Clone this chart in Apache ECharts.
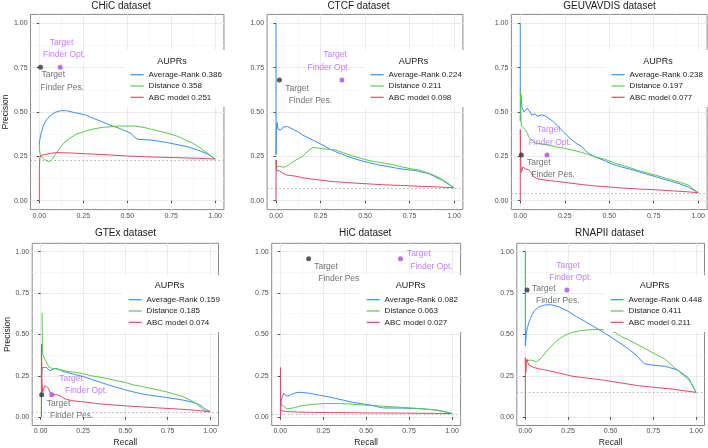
<!DOCTYPE html>
<html><head><meta charset="utf-8">
<script src="https://cdn.jsdelivr.net/npm/echarts@6/dist/echarts.min.js"></script>
<style>html,body{margin:0;padding:0;background:#fff}#c{width:708px;height:448px}</style>
</head><body><div id="c"></div>
<script>
// ---------- DATA ----------
const panelTitles = ['CHiC dataset', 'CTCF dataset', 'GEUVAVDIS dataset', 'GTEx dataset', 'HiC dataset', 'RNAPII dataset'];
const methodNames = ['Average-Rank', 'Distance', 'ABC model'];
const tickValues = [0, 0.25, 0.5, 0.75, 1];
const minorValues = [0.125, 0.375, 0.625, 0.875];

const chicAupr = [0.386, 0.358, 0.251];
const ctcfAupr = [0.224, 0.211, 0.098];
const geuAupr = [0.238, 0.197, 0.077];
const gtexAupr = [0.159, 0.185, 0.074];
const hicAupr = [0.082, 0.063, 0.027];
const rnapiiAupr = [0.448, 0.411, 0.211];

const baselines = [0.235, 0.073, 0.045, 0.034, 0.022, 0.149];

// Target Finder points [recall, precision]
const pesRecall = [0.007, 0.019, 0.006, 0.006, 0.165, 0.01];
const pesPrecision = [0.752, 0.68, 0.258, 0.135, 0.956, 0.768];
const optRecall = [0.119, 0.37, 0.15, 0.065, 0.70, 0.244];
const optPrecision = [0.752, 0.68, 0.258, 0.135, 0.956, 0.768];
const pesLabels = ['Target\nFinder Pes.', 'Target\nFinder Pes.', 'Target\nFinder Pes.', 'Target\nFinder Pes.', 'Target\nFinder Pes', 'Target\nFinder Pes.'];
const optLabels = ['Target\nFinder Opt.', 'Target\nFinder Opt.', 'Target\nFinder Opt.', 'Target\nFinder Opt.', 'Target\nFinder Opt.', 'Target\nFinder Opt.'];

// PR curves: [recall, precision]
const chicAvgRank = [[0,0.32],[0.004,0.35],[0.01,0.38],[0.022,0.42],[0.04,0.455],[0.06,0.478],[0.09,0.498],[0.12,0.507],[0.15,0.508],[0.2,0.497],[0.264,0.483],[0.31,0.463],[0.357,0.445],[0.4,0.427],[0.45,0.41],[0.49,0.393],[0.516,0.383],[0.535,0.365],[0.55,0.352],[0.562,0.346],[0.637,0.342],[0.73,0.327],[0.84,0.305],[0.916,0.28],[0.96,0.262],[1,0.235]];
const chicDistance = [[0,0.32],[0.002,0.28],[0.006,0.26],[0.015,0.245],[0.03,0.232],[0.045,0.223],[0.06,0.222],[0.075,0.235],[0.09,0.26],[0.115,0.295],[0.14,0.325],[0.17,0.35],[0.21,0.375],[0.264,0.393],[0.31,0.405],[0.357,0.413],[0.45,0.421],[0.544,0.421],[0.6,0.412],[0.637,0.402],[0.69,0.39],[0.73,0.38],[0.78,0.365],[0.823,0.346],[0.87,0.325],[0.916,0.297],[0.96,0.265],[1,0.235]];
const chicAbc = [[0,0],[0,0.18],[0.003,0.24],[0.008,0.255],[0.02,0.258],[0.04,0.262],[0.07,0.268],[0.1,0.271],[0.15,0.27],[0.2,0.268],[0.3,0.263],[0.4,0.258],[0.5,0.252],[0.6,0.248],[0.7,0.245],[0.8,0.242],[0.9,0.239],[1,0.235]];

const ctcfAvgRank = [[0,1.0],[0,0.26],[0.002,0.40],[0.006,0.44],[0.012,0.40],[0.02,0.39],[0.03,0.40],[0.04,0.415],[0.05,0.42],[0.065,0.418],[0.08,0.41],[0.1,0.40],[0.12,0.39],[0.15,0.37],[0.18,0.355],[0.21,0.34],[0.26,0.315],[0.3,0.292],[0.336,0.276],[0.39,0.255],[0.43,0.24],[0.48,0.225],[0.52,0.215],[0.57,0.203],[0.617,0.195],[0.67,0.185],[0.71,0.178],[0.785,0.17],[0.86,0.152],[0.935,0.115],[1,0.073]];
const ctcfDistance = [[0,0.23],[0.003,0.19],[0.01,0.2],[0.02,0.195],[0.035,0.19],[0.05,0.19],[0.07,0.2],[0.09,0.215],[0.12,0.235],[0.15,0.25],[0.18,0.28],[0.206,0.30],[0.23,0.298],[0.262,0.293],[0.3,0.289],[0.336,0.286],[0.38,0.27],[0.43,0.252],[0.48,0.238],[0.523,0.226],[0.57,0.218],[0.617,0.21],[0.67,0.2],[0.71,0.19],[0.76,0.18],[0.804,0.173],[0.85,0.158],[0.897,0.14],[0.95,0.11],[1,0.073]];
const ctcfAbc = [[0,0],[0,0.23],[0.003,0.17],[0.008,0.18],[0.015,0.17],[0.025,0.165],[0.04,0.155],[0.06,0.145],[0.1,0.14],[0.15,0.13],[0.2,0.122],[0.3,0.11],[0.4,0.102],[0.5,0.096],[0.6,0.09],[0.7,0.086],[0.8,0.082],[0.9,0.078],[1,0.073]];

const geuAvgRank = [[0,1.0],[0,0.45],[0.003,0.6],[0.009,0.53],[0.02,0.50],[0.028,0.51],[0.04,0.52],[0.047,0.53],[0.055,0.50],[0.065,0.483],[0.075,0.49],[0.084,0.49],[0.095,0.475],[0.103,0.47],[0.12,0.485],[0.131,0.487],[0.145,0.475],[0.159,0.465],[0.18,0.45],[0.196,0.436],[0.215,0.415],[0.234,0.397],[0.26,0.37],[0.29,0.342],[0.32,0.32],[0.346,0.305],[0.383,0.267],[0.43,0.243],[0.477,0.224],[0.52,0.205],[0.57,0.19],[0.62,0.177],[0.664,0.164],[0.71,0.15],[0.757,0.137],[0.8,0.123],[0.85,0.109],[0.9,0.094],[0.944,0.077],[1,0.045]];
const geuDistance = [[0,0.62],[0.002,0.55],[0.004,0.45],[0.009,0.42],[0.015,0.43],[0.028,0.40],[0.04,0.38],[0.047,0.36],[0.06,0.345],[0.065,0.34],[0.084,0.325],[0.12,0.32],[0.15,0.315],[0.196,0.305],[0.25,0.295],[0.29,0.286],[0.346,0.272],[0.383,0.26],[0.43,0.245],[0.477,0.233],[0.52,0.216],[0.57,0.2],[0.62,0.185],[0.664,0.17],[0.71,0.157],[0.757,0.145],[0.8,0.132],[0.85,0.117],[0.9,0.103],[0.944,0.088],[1,0.045]];
const geuAbc = [[0,0],[0,0.40],[0.003,0.2],[0.006,0.16],[0.01,0.17],[0.015,0.19],[0.02,0.195],[0.028,0.18],[0.035,0.19],[0.047,0.175],[0.06,0.16],[0.065,0.15],[0.075,0.135],[0.09,0.128],[0.103,0.122],[0.15,0.115],[0.196,0.11],[0.29,0.098],[0.4,0.085],[0.477,0.079],[0.57,0.072],[0.664,0.066],[0.757,0.062],[0.85,0.056],[0.944,0.05],[1,0.045]];

const gtexAvgRank = [[0.003,0.25],[0.006,0.27],[0.01,0.30],[0.016,0.31],[0.022,0.30],[0.03,0.29],[0.035,0.30],[0.045,0.29],[0.055,0.28],[0.065,0.285],[0.075,0.29],[0.09,0.295],[0.104,0.29],[0.125,0.28],[0.154,0.27],[0.193,0.26],[0.252,0.245],[0.3,0.228],[0.35,0.212],[0.4,0.195],[0.449,0.18],[0.5,0.165],[0.547,0.153],[0.6,0.14],[0.646,0.133],[0.7,0.125],[0.744,0.119],[0.8,0.11],[0.843,0.103],[0.9,0.09],[0.941,0.073],[0.97,0.05],[1,0.034]];
const gtexDistance = [[0.008,0.63],[0.01,0.45],[0.012,0.38],[0.02,0.37],[0.03,0.34],[0.04,0.32],[0.05,0.30],[0.07,0.295],[0.1,0.29],[0.125,0.285],[0.154,0.277],[0.2,0.272],[0.252,0.262],[0.3,0.25],[0.35,0.242],[0.4,0.232],[0.449,0.22],[0.5,0.21],[0.547,0.195],[0.6,0.185],[0.646,0.175],[0.7,0.163],[0.744,0.153],[0.8,0.137],[0.843,0.123],[0.88,0.105],[0.92,0.083],[0.95,0.055],[0.97,0.036],[1,0.034]];
const gtexAbc = [[0.005,0],[0.005,0.44],[0.008,0.2],[0.012,0.15],[0.018,0.175],[0.025,0.19],[0.035,0.188],[0.045,0.175],[0.055,0.15],[0.065,0.14],[0.08,0.135],[0.1,0.135],[0.114,0.13],[0.13,0.118],[0.154,0.107],[0.2,0.098],[0.252,0.093],[0.35,0.08],[0.468,0.071],[0.6,0.062],[0.7,0.056],[0.8,0.05],[0.9,0.043],[1,0.034]];

const hicAvgRank = [[0.002,0.06],[0.006,0.1],[0.012,0.125],[0.02,0.145],[0.028,0.135],[0.035,0.128],[0.05,0.13],[0.07,0.14],[0.09,0.148],[0.11,0.15],[0.13,0.149],[0.17,0.145],[0.227,0.133],[0.28,0.123],[0.324,0.113],[0.38,0.1],[0.421,0.09],[0.47,0.082],[0.518,0.075],[0.57,0.062],[0.6,0.056],[0.713,0.055],[0.81,0.052],[0.907,0.044],[0.96,0.033],[1,0.022]];
const hicDistance = [[0.002,0.09],[0.006,0.075],[0.012,0.068],[0.02,0.065],[0.03,0.058],[0.04,0.05],[0.05,0.048],[0.07,0.055],[0.09,0.06],[0.12,0.068],[0.15,0.073],[0.2,0.078],[0.25,0.082],[0.3,0.083],[0.35,0.082],[0.4,0.08],[0.45,0.076],[0.5,0.073],[0.55,0.07],[0.6,0.066],[0.7,0.06],[0.8,0.053],[0.9,0.044],[0.96,0.032],[1,0.022]];
const hicAbc = [[0.001,0],[0.001,0.30],[0.003,0.04],[0.01,0.038],[0.03,0.035],[0.06,0.033],[0.1,0.031],[0.2,0.029],[0.3,0.028],[0.5,0.026],[0.7,0.025],[0.9,0.023],[1,0.022]];

const rnapiiAvgRank = [[0,1.0],[0,0.43],[0.003,0.47],[0.006,0.51],[0.012,0.54],[0.02,0.57],[0.03,0.595],[0.039,0.62],[0.055,0.645],[0.078,0.665],[0.1,0.673],[0.117,0.678],[0.14,0.679],[0.156,0.678],[0.2,0.665],[0.25,0.64],[0.3,0.607],[0.35,0.578],[0.4,0.548],[0.469,0.505],[0.5,0.485],[0.566,0.44],[0.6,0.415],[0.65,0.375],[0.68,0.34],[0.70,0.322],[0.723,0.318],[0.76,0.313],[0.82,0.307],[0.86,0.295],[0.898,0.282],[0.957,0.236],[1,0.15]];
const rnapiiDistance = [[0,0.34],[0.01,0.345],[0.03,0.345],[0.05,0.34],[0.065,0.335],[0.08,0.345],[0.1,0.365],[0.117,0.39],[0.15,0.425],[0.176,0.455],[0.21,0.48],[0.234,0.495],[0.273,0.512],[0.32,0.522],[0.371,0.528],[0.42,0.53],[0.469,0.527],[0.5,0.52],[0.527,0.51],[0.566,0.485],[0.6,0.47],[0.664,0.435],[0.7,0.415],[0.762,0.38],[0.82,0.35],[0.859,0.312],[0.918,0.262],[0.95,0.232],[0.977,0.2],[1,0.15]];
const rnapiiAbc = [[0,0],[0,0.36],[0.003,0.27],[0.006,0.33],[0.01,0.35],[0.015,0.33],[0.02,0.315],[0.03,0.305],[0.05,0.3],[0.078,0.293],[0.117,0.285],[0.176,0.272],[0.273,0.248],[0.371,0.235],[0.469,0.222],[0.566,0.206],[0.664,0.19],[0.76,0.18],[0.86,0.17],[0.93,0.16],[1,0.15]];

// ---------- ASSEMBLY ----------
const curves = [
  [chicAvgRank, chicDistance, chicAbc],
  [ctcfAvgRank, ctcfDistance, ctcfAbc],
  [geuAvgRank, geuDistance, geuAbc],
  [gtexAvgRank, gtexDistance, gtexAbc],
  [hicAvgRank, hicDistance, hicAbc],
  [rnapiiAvgRank, rnapiiDistance, rnapiiAbc]
];
const auprs = [chicAupr, ctcfAupr, geuAupr, gtexAupr, hicAupr, rnapiiAupr];

// layout / style
const FONT = '"Liberation Sans", Arial, Helvetica, sans-serif';
const lineColors = ['#3B8EE8', '#5CC94A', '#E24A66'];
const gridBoxes = [
  [27.05, 14.4, 196.9, 195.2], [267.1, 14.4, 195.8, 195.2], [511.4, 14.4, 196.1, 195.2],
  [32.2, 243.3, 186.3, 184.8], [271.7, 243.3, 188.9, 184.8], [516.8, 243.3, 187.7, 184.8]
];
const titlePos = [[121, 6], [358.5, 6], [609.5, 6], [125.5, 233.5], [365.2, 233.5], [609.5, 233.5]];
const legendBox = [[124, 50], [364, 50], [605, 50], [122, 275], [360, 275], [604, 275]];
const legendTitlePos = [[172, 61.5], [413.5, 61.5], [658, 61.5], [169.5, 286], [410.5, 286], [654.5, 286]];
const pesPlace = [[0, 1.5, 1, 0], [5.9, 2.15, 0, 3.4], [5.7, 1.55, 0, 4.3], [5, 2.55, 0, 3.3], [5.6, 1.55, 0, 4], [5, -7.85, 0, 4]];
const optPlace = [[-17.3, -30.75, 6.7, 0], [-34.3, -31.15, 15.6, 0], [-18.3, -31.15, 8.3, 0], [7.6, -22.45, 0, 5.7], [6.4, -11.15, 0, 3.3], [-17.7, -30.55, 7, 0]];

function tfLabel(text, place, color) {
  const parts = text.split('\n');
  const base = { color: color, fontSize: 8.5, fontFamily: FONT, lineHeight: 12.3 };
  return {
    show: true, position: 'inside', align: 'left', verticalAlign: 'top',
    offset: [place[0], place[1]],
    formatter: '{a|' + parts[0] + '}\n{b|' + parts[1] + '}',
    color: color, fontSize: 8.5, fontFamily: FONT, lineHeight: 12.3,
    rich: {
      a: Object.assign({ padding: [0, 0, 0, place[2]] }, base),
      b: Object.assign({ padding: [0, 0, 0, place[3]] }, base)
    }
  };
}

const grids = [], xAxes = [], yAxes = [], series = [], legends = [], texts = [];
for (let i = 0; i < 6; i++) {
  const g = gridBoxes[i];
  grids.push({ left: g[0], top: g[1], width: g[2], height: g[3], show: true, backgroundColor: '#fff', borderColor: '#8a8a8a', borderWidth: 1 });
  const bottomRow = i >= 3;
  xAxes.push({
    gridIndex: i, type: 'value', min: -0.05, max: 1.05,
    axisLine: { show: false },
    axisTick: { show: true, length: 2.5, lineStyle: { color: '#4d4d4d', width: 1 }, customValues: tickValues },
    axisLabel: { customValues: tickValues, formatter: v => v.toFixed(2), fontSize: 7, color: '#4d4d4d', margin: 2.5, fontFamily: FONT },
    splitLine: { show: true, lineStyle: { color: '#EBEBEB', width: 1 } },
    name: bottomRow ? 'Recall' : '', nameLocation: 'middle', nameGap: 12.5,
    nameTextStyle: { fontSize: 8.5, color: '#1a1a1a', fontFamily: FONT }
  });
  yAxes.push({
    gridIndex: i, type: 'value', min: -0.05, max: 1.05,
    axisLine: { show: false },
    axisTick: { show: true, length: 2.5, lineStyle: { color: '#4d4d4d', width: 1 }, customValues: tickValues },
    axisLabel: { customValues: tickValues, formatter: v => v.toFixed(2), fontSize: 7, color: '#4d4d4d', margin: 3, fontFamily: FONT },
    splitLine: { show: true, lineStyle: { color: '#EBEBEB', width: 1 } },
    name: (i === 0 || i === 3) ? 'Precision' : '', nameLocation: 'middle', nameRotate: 90,
    nameGap: i === 0 ? 12 : 16.5,
    nameTextStyle: { fontSize: 8.5, color: '#1a1a1a', fontFamily: FONT }
  });
}
// minor grid axes
for (let i = 0; i < 6; i++) {
  xAxes.push({
    gridIndex: i, type: 'value', min: -0.05, max: 1.05, position: 'bottom',
    axisLine: { show: false }, axisLabel: { show: false },
    axisTick: { show: false, customValues: minorValues },
    splitLine: { show: true, lineStyle: { color: '#F4F4F4', width: 0.7 } }
  });
  yAxes.push({
    gridIndex: i, type: 'value', min: -0.05, max: 1.05, position: 'left',
    axisLine: { show: false }, axisLabel: { show: false },
    axisTick: { show: false, customValues: minorValues },
    splitLine: { show: true, lineStyle: { color: '#F4F4F4', width: 0.7 } }
  });
}

for (let i = 0; i < 6; i++) {
  const names = [];
  for (let k = 0; k < 3; k++) {
    const nm = methodNames[k] + ' ' + auprs[i][k].toFixed(3);
    names.push(nm);
    const s = {
      type: 'line', name: nm, xAxisIndex: i, yAxisIndex: i, data: curves[i][k],
      symbol: 'none', lineStyle: { width: 1, color: lineColors[k] }, itemStyle: { color: lineColors[k] },
      z: 3, silent: true
    };
    if (k === 2) {
      s.markLine = {
        silent: true, symbol: ['none', 'none'], label: { show: false },
        lineStyle: { type: [1.5, 2.5], color: '#b0b0b0', width: 1 },
        data: [{ yAxis: baselines[i] }], z: 1
      };
    }
    series.push(s);
  }
  series.push({
    type: 'scatter', name: 'tf' + i, xAxisIndex: i, yAxisIndex: i, symbolSize: 5, z: 5, silent: true,
    data: [
      { value: [pesRecall[i], pesPrecision[i]], itemStyle: { color: '#333333' }, label: tfLabel(pesLabels[i], pesPlace[i], '#4d4d4d') },
      { value: [optRecall[i], optPrecision[i]], itemStyle: { color: '#A64CF0' }, label: tfLabel(optLabels[i], optPlace[i], '#B35CF5') }
    ]
  });
  legends.push({
    orient: 'vertical', left: legendBox[i][0], top: legendBox[i][1], data: names,
    backgroundColor: '#fff', padding: [20.7, 11, 5.7, 6], itemWidth: 13, itemHeight: 10, itemGap: 3.3,
    itemStyle: { opacity: 0, borderWidth: 0 }, lineStyle: { width: 1.2 },
    textStyle: { fontSize: 8, color: '#1a1a1a', fontFamily: FONT }, selectedMode: false
  });
  texts.push({ type: 'text', x: titlePos[i][0], y: titlePos[i][1], z: 100,
    style: { text: panelTitles[i], fontSize: 10, fontFamily: FONT, fill: '#1a1a1a', align: 'center', verticalAlign: 'middle', textAlign: 'center', textVerticalAlign: 'middle' } });
  texts.push({ type: 'text', x: legendTitlePos[i][0], y: legendTitlePos[i][1], z: 100,
    style: { text: 'AUPRs', fontSize: 9, fontFamily: FONT, fill: '#1a1a1a', align: 'center', verticalAlign: 'middle', textAlign: 'center', textVerticalAlign: 'middle' } });
}

const chart = echarts.init(document.getElementById('c'), null, { renderer: 'canvas', width: 708, height: 448 });
chart.setOption({
  animation: false,
  backgroundColor: '#fff',
  textStyle: { fontFamily: FONT },
  grid: grids, xAxis: xAxes, yAxis: yAxes, series: series, legend: legends,
  graphic: { elements: texts }
});
</script></body></html>
